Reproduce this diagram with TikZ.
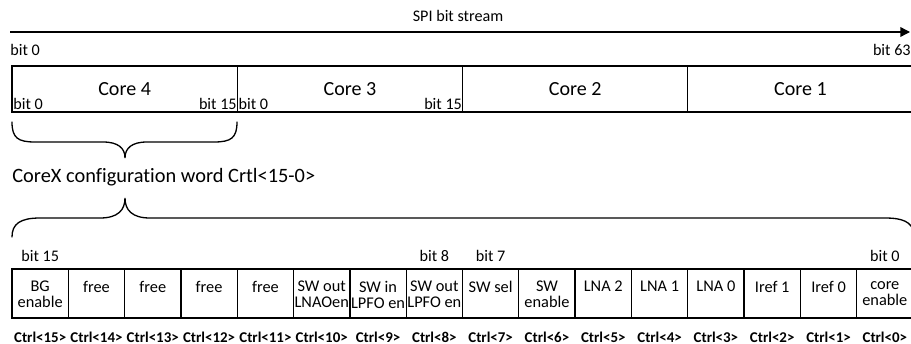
\documentclass[tikz,border=0pt]{standalone}
\usepackage{fontspec}
\setmainfont{Carlito}[Ligatures=NoCommon]
\usetikzlibrary{arrows.meta,positioning}

\tikzset{
  corecell/.style = {draw, line width=0.75pt, minimum width=4.505cm, minimum height=0.92cm,
                     inner sep=0pt, font=\fontsize{11.4}{13}\selectfont},
  bitcell/.style  = {draw, line width=0.75pt, minimum width=1.12625cm, minimum height=0.98cm,
                     inner sep=0pt},
  celltext/.style = {inner sep=0pt, align=center, font=\fontsize{9.3}{9}\selectfont},
  bitlbl/.style   = {inner sep=0pt, font=\fontsize{9.2}{10}\selectfont},
  ctrl/.style     = {inner sep=0pt, anchor=base, font=\bfseries\fontsize{8.5}{10}\selectfont},
  brace/.style    = {line width=0.75pt, line cap=round}
}

\begin{document}
\begin{tikzpicture}[x=0.02cm, y=-0.02cm]
  \useasboundingbox (0,0) rectangle (911,344);

  % bit stream arrow
  \coordinate (streamstart) at (10,32);
  \coordinate (streamend)   at (910,32);
  \draw[line width=0.75pt, -{Triangle[length=5.5pt,width=5.5pt]}] (streamstart) -- (streamend);
  \node[bitlbl, anchor=base] (spi) at (458,22) {SPI bit stream};
  \node[bitlbl, anchor=base west] (first) at (10,56) {bit 0};
  \node[bitlbl, anchor=base east] (last)  at (911,56) {bit 63};

  % the four core words
  \foreach \n [count=\i from 0] in {4,3,2,1}
    \node[corecell] (core\n) at ({12+225.25*(\i+0.5)},89) {Core \n};
  \foreach \n in {4,3} {
    \node[bitlbl, anchor=base west] (lo\n) at ([xshift=1pt,yshift=2pt]core\n.south west) {bit 0};
    \node[bitlbl, anchor=base east] (hi\n) at ([xshift=-0.5pt,yshift=2pt]core\n.south east) {bit 15};
  }

  % brace under core 4
  \draw[brace] (12,122) .. controls (12,138) and (18,142) .. (35,142) -- (103,142)
               .. controls (118,142) and (125,148) .. (125,158)
               .. controls (125,148) and (132,142) .. (147,142) -- (214,142)
               .. controls (231,142) and (237,138) .. (237,122);

  \node[inner sep=0pt, anchor=west, font=\fontsize{11.6}{13}\selectfont] (word) at (12,177)
    {CoreX configuration word Crtl<15-0>};

  % wide brace over the register
  \draw[brace] (12,237) .. controls (12,224) and (20,218) .. (40,218) -- (100,218)
               .. controls (118,218) and (125,210) .. (125,198)
               .. controls (125,210) and (132,218) .. (150,218) -- (885,218)
               .. controls (903,218) and (911,222) .. (914,232);

  % control register cells
  \foreach \n/\txt [count=\i from 0] in {15/{BG\\enable},14/free,13/free,12/free,11/free,
      10/{SW out\\LNAOen},9/{SW in\\LPFO en},8/{SW out\\LPFO en},7/SW sel,6/{SW\\enable},
      5/LNA 2,4/LNA 1,3/LNA 0,2/Iref 1,1/Iref 0,0/{core\\enable}} {
    \node[bitcell] (b\n) at ({12+56.3125*(\i+0.5)},293.5) {};
    \node[celltext, below=7.2pt of b\n.north] (t\n) {\txt};
    \node[ctrl] (c\n) at ([yshift=-13.4pt]b\n.south) {Ctrl<\n>};
  }
  \foreach \n in {15,8,7,0}
    \node[bitlbl, anchor=base] (bit\n) at ([yshift=4pt]b\n.north) {bit \n};
\end{tikzpicture}
\end{document}
